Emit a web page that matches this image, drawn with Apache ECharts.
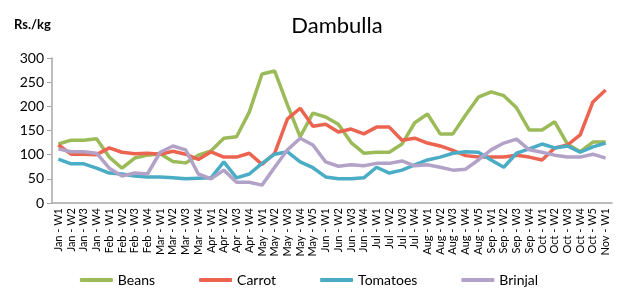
<!DOCTYPE html>
<html>
<head>
<meta charset="utf-8">
<script src="https://cdn.jsdelivr.net/npm/echarts@6/dist/echarts.min.js"></script>
<style>
  html, body { margin: 0; padding: 0; background: #fff; }
  #chart { width: 618px; height: 296px; }
</style>
</head>
<body>
<div id="chart"></div>
<script>
const weeks = [
  'Jan - W1', 'Jan - W2', 'Jan - W3', 'Jan - W4',
  'Feb - W1', 'Feb - W2', 'Feb - W3', 'Feb - W4',
  'Mar - W1', 'Mar - W2', 'Mar - W3', 'Mar - W4',
  'Apr - W1', 'Apr - W2', 'Apr - W3', 'Apr - W4',
  'May - W1', 'May - W2', 'May - W3', 'May - W4', 'May - W5',
  'Jun - W1', 'Jun - W2', 'Jun - W3', 'Jun - W4',
  'Jul - W1', 'Jul - W2', 'Jul - W3', 'Jul - W4',
  'Aug - W1', 'Aug - W2', 'Aug - W3', 'Aug - W4', 'Aug - W5',
  'Sep - W1', 'Sep - W2', 'Sep - W3', 'Sep - W4',
  'Oct - W1', 'Oct - W2', 'Oct - W3', 'Oct - W4', 'Oct - W5',
  'Nov - W1'
]
const beans = [122, 130, 130, 133, 95, 72, 93, 99, 102, 86, 83, 99, 108, 134, 137, 188, 267, 273, 203, 137, 186,
  178, 163, 125, 103, 105, 105, 122, 166, 184, 143, 143, 182, 219, 230, 222, 197, 151, 151, 168, 122, 106, 126, 126]
const carrot = [120, 101, 101, 100, 114, 105, 102, 103, 101, 107, 101, 90, 106, 95, 95, 103, 80, 103, 174, 196, 159,
  163, 147, 153, 143, 157, 157, 130, 134, 124, 118, 109, 98, 95, 95, 95, 99, 95, 89, 114, 120, 141, 209, 234]
const tomatoes = [91, 81, 81, 72, 62, 60, 56, 54, 54, 52, 50, 51, 52, 85, 52, 60, 82, 101, 106, 85, 73,
  54, 50, 50, 52, 74, 62, 68, 79, 89, 95, 103, 106, 105, 89, 74, 103, 112, 122, 114, 118, 105, 116, 124]
const brinjal = [112, 106, 106, 103, 72, 56, 62, 60, 105, 118, 110, 60, 50, 68, 43, 43, 37, 74, 110, 134, 120,
  85, 76, 79, 77, 82, 82, 87, 77, 79, 74, 68, 70, 89, 110, 124, 132, 110, 105, 99, 95, 95, 101, 93]
const yTicks = [0, 50, 100, 150, 200, 250, 300]

const font = 'Lato, "Open Sans", sans-serif'
const colors = ['#9bbb59', '#ec6450', '#4bacc6', '#b3a2c7']

const chart = echarts.init(document.getElementById('chart'))

function line(name, data, i) {
  return {
    name: name,
    type: 'line',
    data: data,
    symbol: 'none',
    lineStyle: { width: 3.5, color: colors[i] },
    itemStyle: { color: colors[i] }
  }
}

chart.setOption({
  animation: false,
  title: {
    text: 'Dambulla',
    left: 332,
    textAlign: 'center',
    top: 10,
    textStyle: { fontFamily: font, fontSize: 22, fontWeight: 'normal', color: '#000' }
  },
  graphic: [{
    type: 'text',
    left: 14,
    top: 18,
    style: { text: 'Rs./kg', font: 'bold 13px ' + font, fill: '#000' }
  }],
  legend: {
    bottom: 4,
    left: 'center',
    itemWidth: 33,
    itemHeight: 4,
    itemGap: 44,
    icon: 'roundRect',
    textStyle: { fontFamily: font, fontSize: 14, color: '#000' },
    data: ['Beans', 'Carrot', 'Tomatoes', 'Brinjal']
  },
  grid: { left: 52, right: 6, top: 58, height: 145 },
  xAxis: {
    type: 'category',
    data: weeks,
    boundaryGap: true,
    axisLine: { lineStyle: { color: '#a6a6a6', width: 1.5 } },
    axisTick: { show: false },
    axisLabel: {
      rotate: 90,
      interval: 0,
      margin: 5,
      fontFamily: font,
      fontSize: 11,
      color: '#000'
    }
  },
  yAxis: {
    type: 'value',
    min: yTicks[0],
    max: yTicks[yTicks.length - 1],
    interval: 50,
    splitLine: { show: false },
    axisLine: { show: true, lineStyle: { color: '#a6a6a6', width: 1.5 } },
    axisTick: { show: true, length: 5, lineStyle: { color: '#a6a6a6' } },
    axisLabel: { fontFamily: font, fontSize: 14, color: '#000', margin: 8 }
  },
  series: [
    line('Beans', beans, 0),
    line('Carrot', carrot, 1),
    line('Tomatoes', tomatoes, 2),
    line('Brinjal', brinjal, 3)
  ]
})
</script>
</body>
</html>
